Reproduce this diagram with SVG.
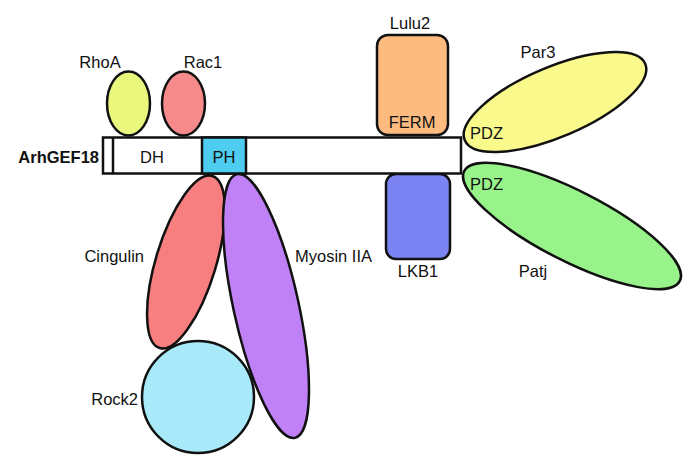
<svg xmlns="http://www.w3.org/2000/svg" width="700" height="471" viewBox="0 0 700 471">
<style>
.s{stroke:#111;stroke-width:2.5}
text{font-family:"Liberation Sans",Arial,sans-serif;font-size:16.5px;fill:#111}
.m{text-anchor:middle}
.e{text-anchor:end}
</style>
<rect width="700" height="471" fill="#fff"/>
<g id="connectors"></g>
<g id="RhoA"><ellipse class="s" cx="128.5" cy="103.5" rx="21.5" ry="32" fill="#e9f77c"/><text class="m" x="100" y="68">RhoA</text></g>
<g id="Rac1"><ellipse class="s" cx="183.5" cy="103.5" rx="21.5" ry="32" fill="#f78a8a"/><text class="m" x="203" y="68">Rac1</text></g>
<g id="Lulu2"><rect class="s" x="377" y="35" width="71" height="100" rx="11" fill="#fdbb80"/><text class="m" x="410" y="29">Lulu2</text><text class="m" x="412" y="128">FERM</text></g>
<g id="LKB1"><rect class="s" x="386" y="174" width="64" height="85" rx="10" fill="#7b84f2"/><text class="m" x="418" y="277">LKB1</text></g>
<g id="Par3"><ellipse class="s" cx="555" cy="102" rx="98" ry="35" transform="rotate(-23 555 102)" fill="#fafa8c"/><text class="m" x="538" y="58">Par3</text><text x="470" y="139">PDZ</text></g>
<g id="Patj"><ellipse class="s" cx="572" cy="226" rx="121" ry="35" transform="rotate(27 572 226)" fill="#98f38a"/><text class="m" x="533" y="277">Patj</text><text x="470" y="190">PDZ</text></g>
<g id="ArhGEF18">
<rect class="s" x="103" y="137.5" width="358" height="36" fill="#fff"/>
<line class="s" x1="113" y1="137.5" x2="113" y2="173.5"/>
<rect class="s" x="202" y="137.5" width="44" height="36" fill="#4fcdf0"/>
<text class="m" x="152" y="163">DH</text>
<text class="m" x="224" y="163">PH</text>
<text class="e" x="99" y="163" font-weight="bold">ArhGEF18</text>
</g>
<g id="Cingulin"><ellipse class="s" cx="186" cy="262" rx="30" ry="90" transform="rotate(17 186 262)" fill="#f77f7f"/><text class="e" x="144" y="262">Cingulin</text></g>
<g id="MyosinIIA"><ellipse class="s" cx="266" cy="306" rx="32.5" ry="135" transform="rotate(-12.4 266 306)" fill="#c080f6"/><text x="295" y="262">Myosin IIA</text></g>
<g id="Rock2"><circle class="s" cx="198" cy="397" r="56" fill="#a8e9fa"/><text class="e" x="138" y="405">Rock2</text></g>
</svg>
